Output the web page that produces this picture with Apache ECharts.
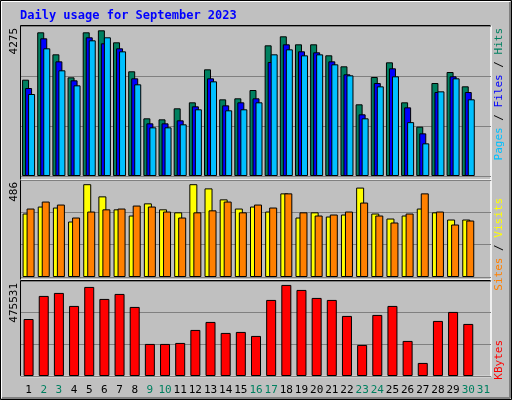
<!DOCTYPE html>
<html>
<head>
<meta charset="utf-8">
<script src="https://cdn.jsdelivr.net/npm/echarts@6/dist/echarts.min.js"></script>
<style>
  html, body { margin: 0; padding: 0; background: #c0c0c0; }
  #chart { width: 512px; height: 400px; }
</style>
</head>
<body>
<div id="chart"></div>
<script>
var days = ['1','2','3','4','5','6','7','8','9','10','11','12','13','14','15','16','17','18','19','20','21','22','23','24','25','26','27','28','29','30','31'];
var weekend = ['2','3','9','10','16','17','23','24','30','31'];

var hits  = [2745, 4095, 3468, 2812, 4095, 4152, 3810, 2984, 1644, 1615, 1929, 2100, 3040, 2185, 2214, 2451,
             3724, 3981, 3753, 3753, 3440, 3126, 2043, 2821, 3240, 2100, 1406, 2650, 2964, 2556];
var files = [2508, 3924, 3268, 2727, 3953, 3782, 3639, 2784, 1501, 1501, 1587, 1986, 2784, 2014, 2100, 2214,
             3249, 3753, 3554, 3525, 3268, 2898, 1758, 2650, 3069, 1957, 1216, 2394, 2841, 2394];
var pages = [2337, 3639, 3012, 2584, 3867, 3953, 3553, 2613, 1387, 1387, 1473, 1901, 2698, 1872, 1901, 2100,
             3468, 3610, 3439, 3467, 3183, 2869, 1644, 2555, 2841, 1535, 931, 2413, 2784, 2186];

var sites  = [318, 353, 348, 278, 465, 404, 339, 308, 369, 339, 324, 465, 444, 389, 343, 353, 328, 419, 298, 324, 303, 313, 448, 318, 293, 308, 343, 324, 288, 288];
var visits = [343, 378, 363, 298, 328, 339, 343, 358, 353, 328, 298, 324, 334, 378, 324, 363, 348, 419, 324, 308, 313, 328, 373, 308, 273, 318, 419, 328, 263, 283];

var kbytes = [285303, 400786, 415803, 350728, 445837, 385773, 410797, 345722, 160543, 160543, 165549, 230624,
              270669, 215605, 220611, 200590, 380768, 455850, 430823, 390780, 380768, 300684, 155538, 305690,
              350728, 175560, 65439, 275675, 320706, 260657];

var chart = echarts.init(document.getElementById('chart'));

var L = 21, R = 491;
var font = 'DejaVu Sans Mono';
var grids = [
  { left: L, right: 512 - R, top: 26, height: 150 },
  { left: L, right: 512 - R, top: 180, height: 97 },
  { left: L, right: 512 - R, top: 281, height: 95 }
];
var maxes = [4275, 486, 475531];

function yAxis(i) {
  return {
    gridIndex: i, type: 'value', min: 0, max: maxes[i], interval: maxes[i] / 3,
    axisLabel: { show: false }, axisLine: { show: false }, axisTick: { show: false },
    splitLine: { lineStyle: { color: '#808080', width: 1 } }
  };
}
function xAxis(i) {
  return {
    gridIndex: i, type: 'category', data: days,
    axisLine: { show: false }, axisTick: { show: false },
    axisLabel: {
      show: i === 2, interval: 0, margin: 9, fontFamily: font, fontSize: 11,
      formatter: function (v) { return weekend.indexOf(v) >= 0 ? '{w|' + v + '}' : v; },
      color: '#000', rich: { w: { color: '#008060', fontFamily: font, fontSize: 11 } }
    }
  };
}
function bar(name, data, gi, color, width, gap) {
  return {
    type: 'bar', name: name, data: data, xAxisIndex: gi, yAxisIndex: gi,
    barWidth: width, barGap: gap, animation: false,
    itemStyle: { color: color, borderColor: '#000', borderWidth: 1 }
  };
}

// 3D panel edges: dark top/left, white bottom/right
function panel(x1, y1, x2, y2) {
  return [
    { type: 'line', shape: { x1: x1, y1: y1, x2: x2, y2: y1 }, style: { stroke: '#000', lineWidth: 1 } },
    { type: 'line', shape: { x1: x1, y1: y1, x2: x1, y2: y2 }, style: { stroke: '#000', lineWidth: 1 } },
    { type: 'line', shape: { x1: x1, y1: y2, x2: x2, y2: y2 }, style: { stroke: '#fff', lineWidth: 1.5 } },
    { type: 'line', shape: { x1: x2, y1: y1, x2: x2, y2: y2 }, style: { stroke: '#fff', lineWidth: 1.5 } }
  ];
}
function tok(c) { return { fill: c, font: '11px ' + font }; }
var richR = {
  p: tok('#00c0ff'), f: tok('#0000ff'), h: tok('#008060'),
  s: tok('#ff8000'), v: tok('#ffff00'), k: tok('#ff0000'), b: tok('#000')
};
function vtext(x, y, txt, color, align) {
  return { type: 'text', x: x, y: y, rotation: Math.PI / 2,
    style: { text: txt, fill: color, font: '11px ' + font, align: align, verticalAlign: 'middle', rich: richR } };
}

var graphics = [
  { type: 'rect', shape: { x: 0.5, y: 0.5, width: 511, height: 399 }, style: { fill: 'none', stroke: '#000', lineWidth: 1 } },
  { type: 'line', shape: { x1: 1.5, y1: 1.5, x2: 510, y2: 1.5 }, style: { stroke: '#fff', lineWidth: 1 } },
  { type: 'line', shape: { x1: 1.5, y1: 1.5, x2: 1.5, y2: 398 }, style: { stroke: '#fff', lineWidth: 1 } },
  { type: 'line', shape: { x1: 2, y1: 398, x2: 510, y2: 398 }, style: { stroke: '#808080', lineWidth: 2 } },
  { type: 'line', shape: { x1: 510, y1: 2, x2: 510, y2: 398 }, style: { stroke: '#808080', lineWidth: 2 } },
  { type: 'text', x: 20, y: 16, style: { text: 'Daily usage for September 2023', fill: '#0000ff',
      font: 'bold 12px ' + font, verticalAlign: 'middle' } },
  vtext(14, 28, '4275', '#000', 'right'),
  vtext(14, 182, '486', '#000', 'right'),
  vtext(14, 283, '475531', '#000', 'right'),
  vtext(499, 28, '{p|Pages}{b| / }{f|Files}{b| / }{h|Hits}', '#000', 'right'),
  vtext(499, 198, '{s|Sites}{b| / }{v|Visits}', '#000', 'right'),
  vtext(499, 340, '{k|KBytes}', '#000', 'right')
];
graphics = graphics.concat(panel(20.5, 25.5, 491, 180), panel(20.5, 180.5, 491, 280), panel(20.5, 280.5, 491, 376.5));

var option = {
  backgroundColor: '#c0c0c0',
  animation: false,
  grid: grids,
  xAxis: [xAxis(0), xAxis(1), xAxis(2)],
  yAxis: [yAxis(0), yAxis(1), yAxis(2)],
  series: [
    bar('Hits', hits, 0, '#008060', 7, '-57%'),
    bar('Files', files, 0, '#0000ff', 7, '-57%'),
    bar('Pages', pages, 0, '#00c0ff', 7, '-57%'),
    bar('Sites', sites, 1, '#ffff00', 8, '-50%'),
    bar('Visits', visits, 1, '#ff8000', 8, '-50%'),
    bar('KBytes', kbytes, 2, '#ff0000', 10, '0%')
  ],
  graphic: graphics
};

chart.setOption(option);
</script>
</body>
</html>
